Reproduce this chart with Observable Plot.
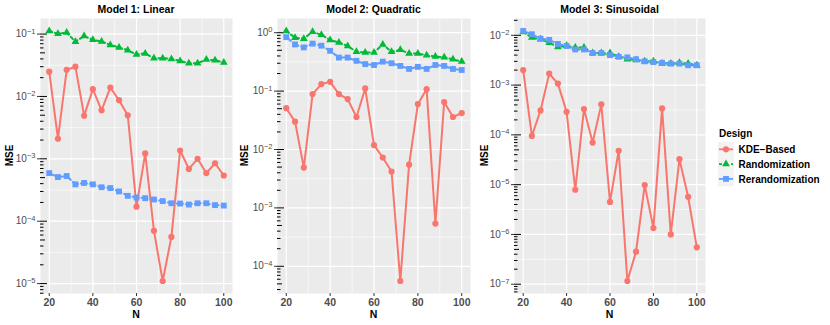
<!DOCTYPE html>
<html><head><meta charset="utf-8">
<script src="https://cdn.jsdelivr.net/npm/d3@7"></script>
<script src="https://cdn.jsdelivr.net/npm/@observablehq/plot@0.6"></script>
<style>
body{margin:0;background:#fff;font-family:"Liberation Sans",Arial,sans-serif;}
#root{position:relative;width:830px;height:325px;overflow:hidden;}
#root > svg{position:absolute;top:0;}
</style>
</head><body>
<div id="root"></div>
<script>
const N = [20,24,28,32,36,40,44,48,52,56,60,64,68,72,76,80,84,88,92,96,100];
const designs = ["KDE\u2212Based","Randomization","Rerandomization"];
const models = ["Model 1: Linear","Model 2: Quadratic","Model 3: Sinusoidal"];
const xTicks = [20,40,60,80,100];
const colors = ["#F8766D","#00BA38","#619CFF"];
const dashes = [null,"3,3","6,3"];
const symbols = ["circle","triangle","square"];
const radii = [3.1,2.9,3.3];

const m1_kde = [0.025,0.0021,0.0267,0.030,0.0049,0.0131,0.006,0.0139,0.0087,0.005,1.71e-4,1.22e-3,7.0e-5,1.1e-5,5.6e-5,1.36e-3,6.9e-4,1.0e-3,5.9e-4,8.5e-4,5.4e-4];
const m1_rand = [0.112,0.101,0.106,0.0755,0.093,0.081,0.076,0.067,0.061,0.055,0.047,0.049,0.041,0.041,0.040,0.037,0.034,0.034,0.039,0.038,0.035];
const m1_rerand = [5.9e-4,5.1e-4,5.3e-4,3.9e-4,4.1e-4,3.9e-4,3.5e-4,3.4e-4,3.0e-4,2.55e-4,2.4e-4,2.34e-4,2.23e-4,2.1e-4,1.94e-4,1.92e-4,1.85e-4,1.94e-4,1.94e-4,1.81e-4,1.78e-4];
const m2_kde = [0.051,0.030,0.0049,0.089,0.132,0.144,0.089,0.073,0.036,0.111,0.0119,0.0073,0.0042,5.6e-5,0.0055,0.060,0.108,5.4e-4,0.065,0.036,0.042];
const m2_rand = [1.07,0.82,0.79,1.04,0.92,0.75,0.68,0.59,0.47,0.46,0.46,0.63,0.47,0.51,0.44,0.44,0.41,0.39,0.38,0.35,0.32];
const m2_rerand = [0.84,0.63,0.56,0.65,0.60,0.49,0.375,0.375,0.33,0.29,0.28,0.32,0.30,0.27,0.24,0.26,0.24,0.28,0.27,0.24,0.23];
const m3_kde = [2.0e-3,9.5e-5,3.1e-4,1.7e-3,1.07e-3,2.9e-4,7.9e-6,3.3e-4,7.0e-5,4.1e-4,4.5e-6,4.8e-5,1.16e-7,4.5e-7,9.8e-6,1.34e-6,3.4e-4,1.0e-6,3.25e-5,5.7e-6,5.5e-7];
const m3_rand = [0.0117,0.0090,0.0083,0.0071,0.0058,0.0062,0.0057,0.0057,0.0044,0.0044,0.0044,0.0037,0.0033,0.0032,0.0030,0.0030,0.0027,0.0027,0.0028,0.0027,0.0025];
const m3_rerand = [0.0122,0.0105,0.0086,0.0081,0.0067,0.0061,0.0052,0.0052,0.0044,0.0044,0.0040,0.0037,0.0036,0.0033,0.0030,0.0029,0.0028,0.0027,0.0027,0.0025,0.0025];

const panels = [
  {series:[m1_kde,m1_rand,m1_rerand], left:0, width:240, marginLeft:40, marginRight:8, mseX:13},
  {series:[m2_kde,m2_rand,m2_rerand], left:240, width:240, marginLeft:37, marginRight:10, mseX:248},
  {series:[m3_kde,m3_rand,m3_rerand], left:480, width:230, marginLeft:34, marginRight:5, mseX:487.5}
];
const H = 325, MT = 18, MB = 32;
const FONT = "'Liberation Sans', Arial, sans-serif";
const root = document.getElementById("root");

function makePanel(p) {
  const rows = [];
  designs.forEach((d,j) => p.series[j].forEach((v,i) => rows.push({N:N[i], design:d, mse:v})));
  const ls = rows.map(r => Math.log10(r.mse));
  const lmin = d3.min(ls), lmax = d3.max(ls), lr = lmax - lmin;
  const ylo = lmin - 0.05*lr, yhi = lmax + 0.05*lr;
  const ydom = [10**ylo, 10**yhi];
  const [xa, xb] = d3.extent(N), xr = xb - xa;
  const xdom = [xa - 0.05*xr, xb + 0.05*xr];
  const inY = v => v >= ydom[0] && v <= ydom[1];
  const decades = d3.range(Math.ceil(ylo), Math.floor(yhi)+1).map(k => 10**k);
  const minorY = d3.range(Math.floor(ylo)-1, Math.ceil(yhi)+1).map(k => 10**(k+0.5)).filter(inY);
  const minorX = xTicks.slice(0,-1).map((t,i) => (t + xTicks[i+1])/2);
  const lt = [];
  for (let k = Math.floor(ylo); k <= Math.ceil(yhi); k++)
    for (let m = 1; m <= 9; m++) { const v = m*10**k; if (inY(v)) lt.push({v, len: m===1 ? 7 : m===5 ? 5 : 3.5}); }
  const pxPer = (p.width - p.marginLeft - p.marginRight)/(xdom[1]-xdom[0]);

  const marks = [
    Plot.frame({fill:"#EBEBEB", stroke:"none"}),
    Plot.ruleY(minorY, {stroke:"white", strokeWidth:0.6}),
    Plot.ruleX(minorX, {stroke:"white", strokeWidth:0.6}),
    Plot.ruleY(decades, {stroke:"white", strokeWidth:1.2}),
    Plot.ruleX(xTicks, {stroke:"white", strokeWidth:1.2}),
    Plot.ruleY(lt, {y:"v", x1: () => xdom[0], x2: d => xdom[0] + d.len/pxPer, stroke:"black", strokeWidth:1})
  ];
  designs.forEach((d,j) => {
    marks.push(Plot.line(rows.filter(r => r.design === d), {x:"N", y:"mse", stroke:colors[j], strokeWidth:2, strokeDasharray:dashes[j] || undefined}));
  });
  designs.forEach((d,j) => {
    marks.push(Plot.dot(rows.filter(r => r.design === d), {x:"N", y:"mse", fill:colors[j], stroke:"none", symbol:symbols[j], r:radii[j]}));
  });
  marks.push(Plot.axisX({ticks:xTicks, tickSize:3, tickPadding:2, stroke:"#333", fill:"#4D4D4D", fontWeight:"bold", fontSize:10.5, label:null}));
  marks.push(Plot.axisY({ticks:decades, tickSize:3, tickPadding:2, stroke:"#333", fill:"#4D4D4D", fontSize:10, label:null,
    tickFormat: v => "10^" + Math.round(Math.log10(v))}));

  const svg = Plot.plot({
    width:p.width, height:H, marginTop:MT, marginBottom:MB, marginLeft:p.marginLeft, marginRight:p.marginRight,
    x:{domain:xdom}, y:{type:"log", domain:ydom},
    style:{fontFamily:FONT, fontSize:"10px", background:"transparent", overflow:"visible"},
    marks
  });
  svg.style.left = p.left + "px";
  // superscript exponents
  d3.select(svg).selectAll('g[aria-label="y-axis tick label"] text').each(function() {
    const t = this.textContent;
    const m = t.match(/^10\^(-?\d+)$/);
    if (!m) return;
    const e = m[1].replace("-", "\u2212");
    const sel = d3.select(this);
    sel.text(null);
    sel.append("tspan").text("10");
    sel.append("tspan").attr("dy","-0.5em").attr("font-size","7.5px").text(e);
  });
  root.appendChild(svg);
}
panels.forEach(makePanel);

// overlay: titles, axis labels, legend
const ov = d3.select(root).append("svg").attr("width",830).attr("height",325)
  .style("left","0px").style("font-family",FONT);
panels.forEach((p,i) => {
  const L = p.left + p.marginLeft, R = p.left + p.width - p.marginRight;
  const cx = (L+R)/2, cy = (MT + H - MB)/2;
  ov.append("text").attr("x",cx).attr("y",12.5).attr("text-anchor","middle")
    .attr("font-weight","bold").attr("font-size","10.5px").text(models[i]);
  ov.append("text").attr("x",cx).attr("y",318.3).attr("text-anchor","middle")
    .attr("font-weight","bold").attr("font-size","10.5px").text("N");
  ov.append("text").attr("transform",`translate(${p.mseX},${cy}) rotate(-90)`).attr("text-anchor","middle")
    .attr("font-weight","bold").attr("font-size","10px").text("MSE");
});
ov.append("text").attr("x",719).attr("y",136.5).attr("font-weight","bold").attr("font-size","10px").text("Design");
const d3sym = {circle:d3.symbolCircle, triangle:d3.symbolTriangle, square:d3.symbolSquare};
designs.forEach((d,j) => {
  const cy = 149.3 + 14.8*j;
  ov.append("rect").attr("x",718).attr("y",cy-7.4).attr("width",16).attr("height",14.8).attr("fill","#F2F2F2");
  const ln = ov.append("line").attr("x1",719).attr("x2",733).attr("y1",cy).attr("y2",cy)
    .attr("stroke",colors[j]).attr("stroke-width",1.8);
  if (dashes[j]) ln.attr("stroke-dasharray",dashes[j]);
  ov.append("path").attr("d", d3.symbol(d3sym[symbols[j]], Math.PI*radii[j]*radii[j])())
    .attr("transform",`translate(726,${cy})`).attr("fill",colors[j]);
  ov.append("text").attr("x",738.5).attr("y",cy+3.6).attr("font-weight","bold").attr("font-size","10px").text(d);
});
</script>
</body></html>
